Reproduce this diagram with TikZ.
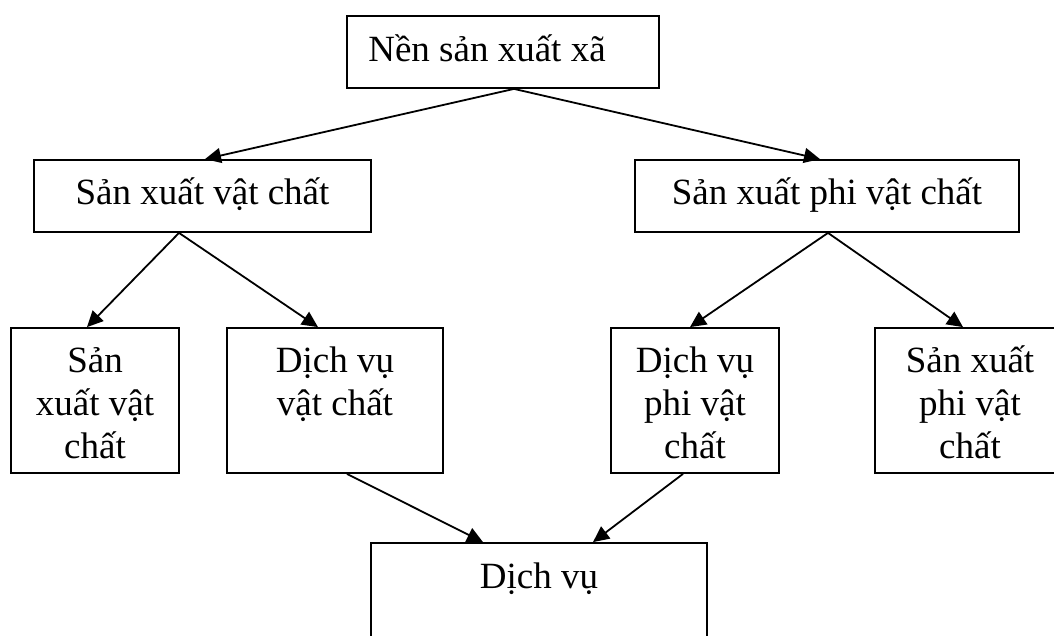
\documentclass[tikz,border=0pt]{standalone}
\usepackage{fontspec}
\setmainfont{Liberation Serif}
\usetikzlibrary{arrows.meta}
\begin{document}
\begin{tikzpicture}[x=1pt,y=-1pt,
  box/.style={draw, line width=1.8pt, inner sep=0pt},
  lbl/.style={anchor=base, align=center, inner sep=0pt, font=\fontsize{37}{43}\selectfont},
  arr/.style={line width=1.8pt, -{Triangle[length=16pt,width=15pt]}}]
\useasboundingbox (0,0) rectangle (1054,636);
\clip (0,0) rectangle (1054,636);
% boxes
\node[box, minimum width=312pt, minimum height=72pt] (top) at (503,52) {};
\node[box, minimum width=337pt, minimum height=72pt] (svc) at (202.5,196) {};
\node[box, minimum width=384pt, minimum height=72pt] (spv) at (827,196) {};
\node[box, minimum width=168pt, minimum height=145pt] (b1) at (95,400.5) {};
\node[box, minimum width=216pt, minimum height=145pt] (b2) at (335,400.5) {};
\node[box, minimum width=168pt, minimum height=145pt] (b3) at (695,400.5) {};
\node[box, minimum width=190pt, minimum height=145pt] (b4) at (970,400.5) {};
\node[box, minimum width=336pt, minimum height=140pt] (dv) at (539,613) {};
% labels
\node[lbl] (ttop) at (487,62) {Nền sản xuất xã};
\node[lbl] (tsvc) at (202.5,205) {Sản xuất vật chất};
\node[lbl] (tspv) at (827,205) {Sản xuất phi vật chất};
\node[lbl] (tb1) at (95,458) {Sản\\xuất vật\\chất};
\node[lbl] (tb2) at (335,415) {Dịch vụ\\vật chất};
\node[lbl] (tb3) at (695,458) {Dịch vụ\\phi vật\\chất};
\node[lbl] (tb4) at (970,458) {Sản xuất\\phi vật\\chất};
\node[lbl] (tdv) at (539,588) {Dịch vụ};
% connectors
\draw[arr] ([xshift=11pt]top.south) -- ([xshift=2.5pt]svc.north);
\draw[arr] ([xshift=11pt]top.south) -- ([xshift=-7pt]spv.north);
\draw[arr] ([xshift=-23.5pt]svc.south) -- ([xshift=-8pt]b1.north);
\draw[arr] ([xshift=-23.5pt]svc.south) -- ([xshift=-17pt]b2.north);
\draw[arr] ([xshift=1pt]spv.south) -- ([xshift=-5pt]b3.north);
\draw[arr] ([xshift=1pt]spv.south) -- ([xshift=-7pt]b4.north);
\draw[arr] ([xshift=12pt]b2.south) -- ([xshift=-56pt]dv.north);
\draw[arr] ([xshift=-12pt]b3.south) -- ([xshift=54pt]dv.north);
\end{tikzpicture}
\end{document}
